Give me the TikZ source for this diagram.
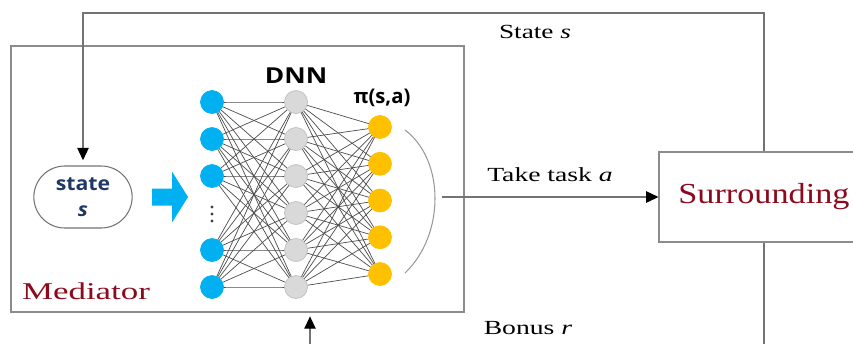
\documentclass[tikz,border=0pt]{standalone}
\usepackage{fontspec}
\setmainfont{Liberation Serif}
\newfontfamily\uisans{Open Sans}
\usepackage{tikz-network}
\usetikzlibrary{arrows.meta,shapes.misc}

\definecolor{inblue}{HTML}{00B0F0}
\definecolor{hidgray}{HTML}{D9D9D9}
\definecolor{outgold}{HTML}{FFC000}
\definecolor{darkred}{HTML}{8B0A1E}
\definecolor{navy}{HTML}{1F3864}
\newcommand{\stretchtxt}[2]{\scalebox{#1}[1]{#2}}

\begin{document}
\begin{tikzpicture}[
		frame/.style={draw=black!45,line width=0.6pt},
		flow/.style={draw=black!55,line width=0.6pt},
		tip/.style={-{Triangle[length=7pt,width=6.5pt,color=black]}},
		caption/.style={font=\fontsize{11.4}{13}\selectfont}]
			\useasboundingbox (0,0) rectangle (17.06,-6.86);
			\clip (0,0) rectangle (17.06,-6.86);
			\node[frame,minimum width=9.06cm,minimum height=5.32cm] (med) at (4.75,-3.58) {};
			\node[frame,minimum width=4.2cm,minimum height=1.8cm,font=\fontsize{16.5}{18}\selectfont,text=darkred] (surr) at (15.28,-3.94) {\stretchtxt{1.18}{Surrounding}};
			\node[draw=black!55,line width=0.6pt,rounded rectangle,minimum width=2.2cm,minimum height=1.24cm,align=center,
				font=\uisans\bfseries\fontsize{11}{15}\selectfont,text=navy] (state) at (1.66,-3.94)
				{\stretchtxt{1.1}{state}\\\stretchtxt{1.1}{\itshape s}};
			\fill[inblue] (3.04,-3.77) -- (3.44,-3.77) -- (3.44,-3.43) -- (3.76,-3.94) -- (3.44,-4.45) -- (3.44,-4.11) -- (3.04,-4.11) -- cycle;
			\foreach \d in {-4.14,-4.28,-4.42}{\fill[black!75] (4.24,\d) circle (0.032);}
			\node[font=\uisans\bfseries\fontsize{12.5}{14}\selectfont] (dnn) at (5.92,-1.52) {\stretchtxt{1.2}{DNN}};
			\node[font=\uisans\bfseries\fontsize{11.5}{13}\selectfont] (pol) at (7.64,-1.96) {π(s,a)};
			\draw[black!40,line width=0.6pt] (8.10,-2.60) .. controls (8.90,-3.20) and (8.90,-4.70) .. (8.10,-5.46);
			\coordinate (act) at (8.84,-3.94);
			\coordinate (top) at (0,-0.26);
			\coordinate (low) at (0,-7.30);
			\coordinate (rin) at (6.20,-6.24);
			\draw[flow,tip] (act) -- (surr);
			\draw[flow,tip,shorten >=3pt] (surr.north) |- (state.north |- top) -- (state.north);
			\draw[flow,tip,shorten >=2.5pt] (surr.south) |- (rin |- low) -- (rin);
			\node[caption] (lstate) at (10.70,-0.64) {\stretchtxt{1.36}{State \textit{s}}};
			\node[caption] (ltask) at (11.00,-3.50) {\stretchtxt{1.38}{Take task \textit{a}}};
			\node[caption] (lbonus) at (10.56,-6.56) {\stretchtxt{1.38}{Bonus \textit{r}}};
			\node[font=\fontsize{13.7}{15}\selectfont,text=darkred] (lmed) at (1.72,-5.82) {\stretchtxt{1.45}{Mediator}};
			\SetVertexStyle[MinSize=0.46cm,LineWidth=0.4pt,LineColor=inblue,FillColor=inblue,FillOpacity=1]
			\SetEdgeStyle[LineWidth=0.4pt,Color=black!70,Opacity=1]
			\Vertex[x=4.24,y=-2.04]{i1}
			\Vertex[x=4.24,y=-2.78]{i2}
			\Vertex[x=4.24,y=-3.52]{i3}
			\Vertex[x=4.24,y=-5.00]{i5}
			\Vertex[x=4.24,y=-5.74]{i6}
			\SetVertexStyle[MinSize=0.46cm,LineWidth=0.4pt,LineColor=black!25,FillColor=hidgray,FillOpacity=1]
			\Vertex[x=5.92,y=-2.04]{h1}
			\Vertex[x=5.92,y=-2.78]{h2}
			\Vertex[x=5.92,y=-3.52]{h3}
			\Vertex[x=5.92,y=-4.26]{h4}
			\Vertex[x=5.92,y=-5.00]{h5}
			\Vertex[x=5.92,y=-5.74]{h6}
			\SetVertexStyle[MinSize=0.46cm,LineWidth=0.4pt,LineColor=outgold,FillColor=outgold,FillOpacity=1]
			\Vertex[x=7.60,y=-2.54]{o1}
			\Vertex[x=7.60,y=-3.275]{o2}
			\Vertex[x=7.60,y=-4.01]{o3}
			\Vertex[x=7.60,y=-4.745]{o4}
			\Vertex[x=7.60,y=-5.48]{o5}
			\foreach \a in {1,2,3,5,6}{\foreach \b in {1,...,6}{\Edge(i\a)(h\b)}}
			\foreach \a in {1,...,6}{\foreach \b in {1,...,5}{\Edge(h\a)(o\b)}}
		\end{tikzpicture}
\end{document}
